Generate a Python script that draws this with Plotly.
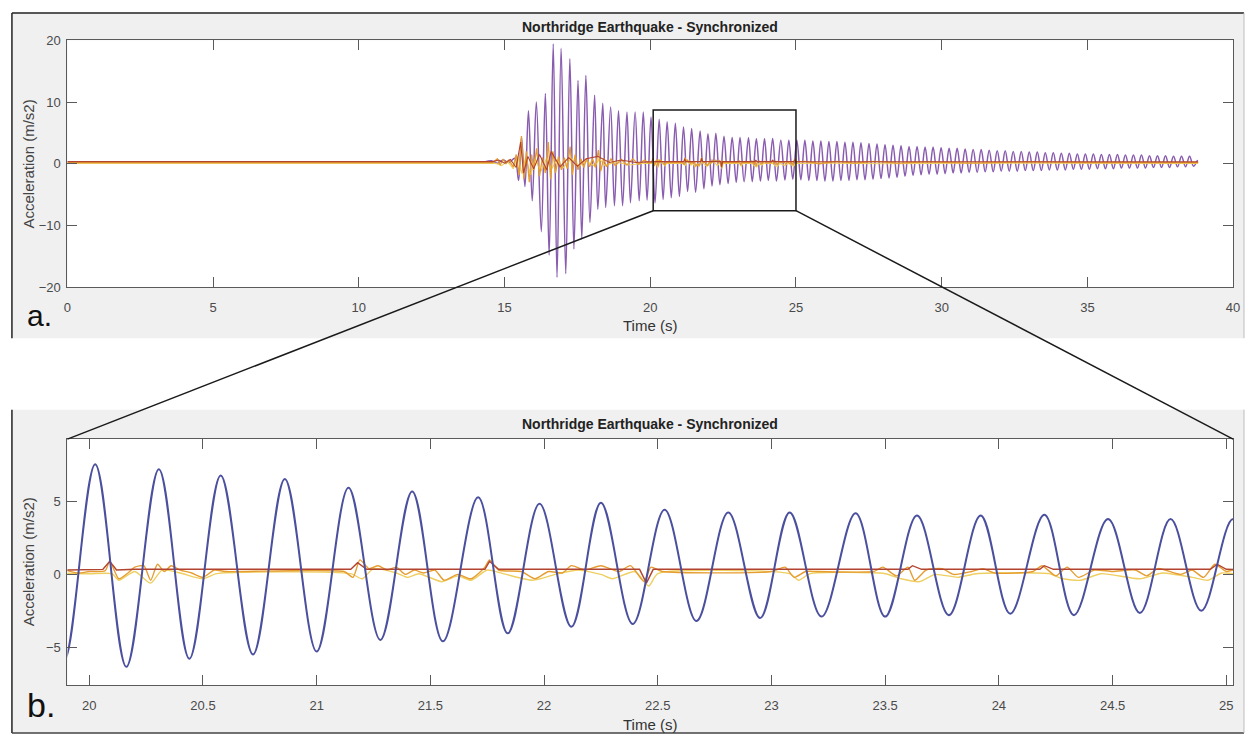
import plotly.graph_objects as go

W, H = 1252, 742

# ---------------- data ----------------
# Main structural acceleration record: extrema of the oscillation (time s, m/s2)
pre_t = [0.0, 14.3, 14.55, 14.75, 14.95, 15.15]
pre_v = [0.3, 0.3, 0.5, 0.1, 0.6, 0.2]

strong_t = [15.35, 15.48, 15.58, 15.70, 15.82, 15.95, 16.09, 16.26, 16.40, 16.53,
            16.67, 16.80, 16.94, 17.10, 17.24, 17.38, 17.52, 17.65, 17.79, 17.93,
            18.09, 18.20, 18.37, 18.47, 18.64, 18.77, 18.91, 19.05, 19.20, 19.32,
            19.48, 19.62, 19.76, 19.89]
strong_v = [0.9, -2.7, 4.3, -3.7, 8.6, -6.0, 10.0, -11.0, 11.4, -14.8,
            19.4, -18.4, 18.7, -17.8, 17.0, -13.8, 13.5, -12.2, 14.3, -9.5,
            11.1, -7.4, 9.8, -7.1, 9.2, -6.8, 8.6, -6.8, 8.4, -6.3,
            8.4, -6.0, 8.4, -5.9]

window_t = [20.026, 20.163, 20.306, 20.44, 20.578, 20.72, 20.86, 21.0, 21.14, 21.28,
            21.42, 21.555, 21.71, 21.84, 21.98, 22.12, 22.25, 22.39, 22.53, 22.67,
            22.81, 22.95, 23.08, 23.22, 23.37, 23.50, 23.64, 23.78, 23.92, 24.05,
            24.20, 24.33, 24.48, 24.62, 24.755, 24.89]
window_v = [7.57, -6.35, 7.23, -5.8, 6.8, -5.5, 6.55, -5.3, 5.95, -4.5,
            5.7, -4.6, 5.3, -4.05, 4.86, -3.6, 4.93, -3.4, 4.45, -3.2,
            4.26, -3.0, 4.26, -2.9, 4.2, -2.9, 4.05, -2.8, 4.05, -2.7,
            4.1, -2.8, 3.8, -2.65, 3.8, -2.5]

coda_t = [25.030, 25.168, 25.305, 25.443, 25.580, 25.718, 25.855, 25.993, 26.130, 26.268,
          26.405, 26.543, 26.680, 26.818, 26.955, 27.093, 27.230, 27.368, 27.505, 27.643,
          27.780, 27.918, 28.055, 28.193, 28.330, 28.468, 28.605, 28.743, 28.880, 29.018,
          29.155, 29.293, 29.430, 29.568, 29.705, 29.843, 29.980, 30.118, 30.255, 30.393,
          30.530, 30.668, 30.805, 30.943, 31.080, 31.218, 31.355, 31.493, 31.630, 31.768,
          31.905, 32.043, 32.180, 32.318, 32.455, 32.593, 32.730, 32.868, 33.005, 33.143,
          33.280, 33.418, 33.555, 33.693, 33.830, 33.968, 34.105, 34.243, 34.380, 34.518,
          34.655, 34.793, 34.930, 35.068, 35.205, 35.343, 35.480, 35.618, 35.755, 35.893,
          36.030, 36.168, 36.305, 36.443, 36.580, 36.718, 36.855, 36.993, 37.130, 37.268,
          37.405, 37.543, 37.680, 37.818, 37.955, 38.093, 38.230, 38.368, 38.505, 38.643,
          38.780]
coda_v = [3.8, -2.6, 3.8, -2.7, 3.7, -2.7, 3.7, -2.8, 3.6, -2.8,
          3.6, -2.7, 3.5, -2.7, 3.5, -2.6, 3.4, -2.6, 3.3, -2.5,
          3.2, -2.4, 3.1, -2.3, 3.0, -2.2, 2.9, -2.0, 2.8, -1.9,
          2.8, -1.8, 2.7, -1.7, 2.7, -1.7, 2.6, -1.6, 2.5, -1.5,
          2.5, -1.5, 2.4, -1.4, 2.3, -1.4, 2.3, -1.3, 2.2, -1.3,
          2.1, -1.2, 2.1, -1.2, 2.0, -1.2, 2.0, -1.1, 1.9, -1.1,
          1.9, -1.1, 1.8, -1.0, 1.8, -1.0, 1.7, -1.0, 1.7, -0.9,
          1.6, -0.9, 1.6, -0.9, 1.6, -0.8, 1.5, -0.8, 1.5, -0.8,
          1.5, -0.7, 1.4, -0.7, 1.4, -0.7, 1.4, -0.7, 1.3, -0.6,
          1.3, -0.6, 1.3, -0.6, 1.2, -0.5, 1.2, -0.5, 1.2, -0.4,
          0.6]

# Secondary (small) acceleration records
red_t = [0.0, 14.6, 14.8, 15.0, 15.2, 15.4, 15.55, 15.65, 15.8, 16.0, 16.2, 16.45, 16.6,
         16.9, 17.2, 17.5, 17.8, 18.2, 18.6, 19.0, 19.5, 20.06, 20.09, 20.12, 20.2,
         21.15, 21.18, 21.22, 21.74, 21.76, 21.8, 22.42, 22.45, 22.48, 23.6, 23.62, 23.66,
         24.18, 24.2, 24.24, 24.93, 24.96, 25.0, 26.0, 28.0, 30.0, 33.0, 36.0, 38.8]
red_v = [0.35, 0.35, 0.6, 0.1, 0.7, -0.6, 3.5, -1.5, 1.2, -0.8, 1.5, -1.0, 2.0,
         -0.5, 1.0, -0.4, 0.8, 1.2, 0.2, 0.6, 0.2, 0.35, 0.9, 0.3, 0.35,
         0.35, 0.8, 0.35, 0.35, 0.9, 0.35, 0.35, -0.6, 0.35, 0.35, 0.6, 0.35,
         0.35, 0.6, 0.35, 0.35, 0.7, 0.35, 0.35, 0.3, 0.35, 0.3, 0.35, 0.3]

orange_t = [0.0, 14.6, 14.75, 14.85, 14.95, 15.05, 15.15, 15.3, 15.4, 15.5, 15.58, 15.66,
            15.75, 15.85, 15.93, 16.0, 16.1, 16.2, 16.3, 16.4, 16.5, 16.58, 16.66, 16.75,
            16.85, 16.95, 17.05, 17.15, 17.25, 17.33, 17.42, 17.52, 17.62, 17.72, 17.82,
            17.92, 18.02, 18.12, 18.22, 18.3, 18.4, 18.5, 18.65, 18.8, 19.0, 19.2, 19.4,
            19.6, 19.8, 19.95,
            20.0, 20.07, 20.09, 20.13, 20.17, 20.2, 20.24, 20.27, 20.3, 20.33, 20.36, 20.4,
            20.45, 20.5, 20.55, 20.6, 21.12, 21.16, 21.19, 21.23, 21.27, 21.31, 21.35, 21.39,
            21.43, 21.47, 21.52, 21.56, 21.62, 21.68, 21.74, 21.76, 21.8, 21.9, 21.96, 22.02,
            22.08, 22.12, 22.18, 22.25, 22.33, 22.38, 22.44, 22.47, 22.52, 23.0, 23.06, 23.1,
            23.15, 23.2, 23.45, 23.49, 23.55, 23.6, 23.63, 23.68, 23.75, 23.8, 23.88, 23.93,
            23.98, 24.15, 24.19, 24.25, 24.3, 24.35, 24.42, 24.5, 24.6, 24.65, 24.7, 24.8,
            24.85, 24.9, 24.95, 25.0, 25.03,
            25.3, 25.8, 26.4, 27.0, 27.7, 28.5, 29.5, 31.0, 33.0, 35.0, 38.8]
orange_v = [0.2, 0.2, 0.8, -0.2, 0.7, 0.0, 0.6, -0.5, 1.5, -1.8, 4.5, -2.5,
            2.0, -3.0, 1.5, -1.0, 2.5, -2.0, 1.0, -1.5, 3.5, -2.5, 2.0, -1.5,
            1.2, -1.0, 1.0, -0.8, 2.8, -1.8, 1.5, -1.0, 0.8, -0.6, 0.9,
            -0.5, 0.8, -0.6, 2.2, -1.2, 0.9, -0.5, 0.8, -0.3, 0.7, -0.2, 0.8,
            -0.1, 0.6, 0.1,
            0.2, 0.25, 0.9, -0.3, 0.1, 0.5, 0.6, -0.4, 0.7, 0.2, 0.6, 0.3,
            0.1, -0.2, 0.3, 0.2, 0.2, -0.2, 1.0, 0.4, 0.6, 0.3, 0.5, 0.0,
            0.3, 0.1, 0.3, -0.4, 0.0, -0.3, 0.5, 1.0, 0.3, 0.2, -0.3, 0.2,
            0.1, 0.6, 0.3, 0.6, 0.2, 0.6, -0.5, 0.5, 0.2, 0.2, 0.5, -0.2,
            0.2, 0.2, 0.2, 0.5, -0.1, 0.5, -0.4, 0.3, 0.4, 0.0, 0.2, 0.4,
            0.1, 0.2, 0.6, -0.1, 0.5, -0.2, 0.3, 0.2, 0.3, -0.1, 0.4, 0.0,
            0.3, -0.2, 0.7, 0.2, 0.3,
            0.4, 0.0, 0.4, 0.1, 0.4, 0.1, 0.3, 0.1, 0.3, 0.2, 0.2]

yellow_t = [0.0, 14.7, 14.9, 15.1, 15.3, 15.45, 15.6, 15.72, 15.9, 16.05, 16.25, 16.45,
            16.6, 16.8, 17.0, 17.3, 17.5, 17.8, 18.1, 18.25, 18.45, 18.8, 19.3, 19.8,
            20.0, 20.1, 20.13, 20.2, 20.27, 20.32, 20.4, 20.5, 20.56, 21.15, 21.2, 21.25,
            21.35, 21.4, 21.45, 21.55, 21.62, 21.68, 21.75, 21.82, 21.95, 22.05, 22.15, 22.25,
            22.3, 22.4, 22.46, 22.5, 23.08, 23.12, 23.17, 23.5, 23.57, 23.65, 23.72, 23.82,
            23.9, 24.22, 24.28, 24.36, 24.45, 24.62, 24.72, 24.85, 24.92, 24.98, 25.03,
            26.0, 28.0, 31.0, 35.0, 38.8]
yellow_v = [0.05, 0.05, -0.3, 0.4, -0.8, 1.2, -1.6, 1.0, -1.8, 0.8, -1.2, 1.0,
            -0.9, 0.6, -0.7, 0.9, -0.5, 0.4, -0.4, 0.8, -0.3, 0.3, -0.2, 0.1,
            0.05, 0.05, -0.4, 0.2, -0.6, 0.3, 0.1, -0.3, 0.05, 0.05, -0.3, 0.4,
            0.1, -0.2, 0.05, -0.5, -0.1, -0.4, 0.3, 0.05, -0.4, 0.0, 0.3, 0.0,
            -0.3, 0.2, -0.8, 0.05, 0.05, -0.4, 0.05, 0.05, -0.3, -0.5, 0.0, -0.2,
            0.05, 0.05, -0.3, -0.4, 0.05, -0.3, 0.1, -0.2, -0.4, 0.1, 0.05,
            0.1, 0.0, 0.1, 0.05, 0.05]

# zoom window (data coords in the top panel)
box_x = [20.1, 25.0]
box_y = [-7.6, 8.7]

title_text = "Northridge Earthquake - Synchronized"
x_top_ticks = [0, 5, 10, 15, 20, 25, 30, 35, 40]
y_top_ticks = [-20, -10, 0, 10, 20]
x_bot_ticks = [20, 20.5, 21, 21.5, 22, 22.5, 23, 23.5, 24, 24.5, 25]
y_bot_ticks = [-5, 0, 5]

wave_t = pre_t + strong_t + window_t + coda_t
wave_v = pre_v + strong_v + window_v + coda_v

# ---------------- layout geometry (pixels -> paper) ----------------
def px(x):
    return x / W

def py(y):
    return 1 - y / H

XD = [px(64), px(1240)]
YD_TOP = [py(286), py(34)]
YD_BOT = [py(692), py(441)]
X_TOP_RANGE = [0, 40]
Y_TOP_RANGE = [-20, 20]
X_BOT_RANGE = [19.904, 25.03]
Y_BOT_RANGE = [-7.6, 9.3]

PURPLE = "#8a5cb0"
BLUE = "#4a4f9e"
RED = "#b2432e"
ORANGE = "#e59c30"
YELLOW = "#efcf62"

fig = go.Figure()

# top panel
fig.add_trace(go.Scatter(x=wave_t, y=wave_v, mode="lines", line=dict(color=PURPLE, width=1.5, shape="spline", smoothing=1.0),
                         xaxis="x", yaxis="y", showlegend=False, hoverinfo="skip"))
fig.add_trace(go.Scatter(x=yellow_t, y=yellow_v, mode="lines", line=dict(color=YELLOW, width=1.2),
                         xaxis="x", yaxis="y", showlegend=False, hoverinfo="skip"))
fig.add_trace(go.Scatter(x=orange_t, y=orange_v, mode="lines", line=dict(color=ORANGE, width=1.3),
                         xaxis="x", yaxis="y", showlegend=False, hoverinfo="skip"))
fig.add_trace(go.Scatter(x=red_t, y=red_v, mode="lines", line=dict(color=RED, width=1.1),
                         xaxis="x", yaxis="y", showlegend=False, hoverinfo="skip"))

# bottom panel
fig.add_trace(go.Scatter(x=yellow_t, y=yellow_v, mode="lines", line=dict(color=YELLOW, width=1.4, shape="spline", smoothing=0.6),
                         xaxis="x2", yaxis="y2", showlegend=False, hoverinfo="skip"))
fig.add_trace(go.Scatter(x=orange_t, y=orange_v, mode="lines", line=dict(color=ORANGE, width=1.4, shape="spline", smoothing=0.6),
                         xaxis="x2", yaxis="y2", showlegend=False, hoverinfo="skip"))
fig.add_trace(go.Scatter(x=red_t, y=red_v, mode="lines", line=dict(color=RED, width=1.4),
                         xaxis="x2", yaxis="y2", showlegend=False, hoverinfo="skip"))
fig.add_trace(go.Scatter(x=wave_t, y=wave_v, mode="lines", line=dict(color=BLUE, width=2.0, shape="spline", smoothing=1.0),
                         xaxis="x2", yaxis="y2", showlegend=False, hoverinfo="skip"))

axis_common = dict(showgrid=False, zeroline=False, showline=True, linecolor="#5a5a5a", linewidth=1,
                   mirror="ticks", ticks="inside", ticklen=10, tickcolor="#5a5a5a", tickwidth=1,
                   tickfont=dict(family="Liberation Sans, Arial, sans-serif", size=13, color="#4a4a4a"))

fig.update_layout(
    width=W, height=H,
    margin=dict(l=0, r=0, t=0, b=0),
    paper_bgcolor="white",
    plot_bgcolor="rgba(0,0,0,0)",
    xaxis=dict(domain=XD, anchor="y", range=X_TOP_RANGE, tickvals=x_top_ticks, ticklabelstandoff=8, **axis_common),
    yaxis=dict(domain=YD_TOP, anchor="x", range=Y_TOP_RANGE, tickvals=y_top_ticks, ticklabelstandoff=3, **axis_common),
    xaxis2=dict(domain=XD, anchor="y2", range=X_BOT_RANGE, tickvals=x_bot_ticks,
                ticktext=[f"{v:g}" for v in x_bot_ticks], ticklabelstandoff=8, **axis_common),
    yaxis2=dict(domain=YD_BOT, anchor="x2", range=Y_BOT_RANGE, tickvals=y_bot_ticks, ticklabelstandoff=3, **axis_common),
)

shapes = []
# gray panel backgrounds
shapes.append(dict(type="rect", xref="paper", yref="paper", x0=px(8), x1=px(1251), y0=py(338), y1=py(6),
                   fillcolor="#f0f0f0", line=dict(width=0), layer="below"))
shapes.append(dict(type="rect", xref="paper", yref="paper", x0=px(8), x1=px(1251), y0=py(741), y1=py(411),
                   fillcolor="#f0f0f0", line=dict(width=0), layer="below"))
# white plot areas
shapes.append(dict(type="rect", xref="paper", yref="paper", x0=XD[0], x1=XD[1], y0=YD_TOP[0], y1=YD_TOP[1],
                   fillcolor="white", line=dict(width=0), layer="below"))
shapes.append(dict(type="rect", xref="paper", yref="paper", x0=XD[0], x1=XD[1], y0=YD_BOT[0], y1=YD_BOT[1],
                   fillcolor="white", line=dict(width=0), layer="below"))
# panel borders
shapes.append(dict(type="line", xref="paper", yref="paper", x0=px(8), x1=px(1251), y0=py(6), y1=py(6),
                   line=dict(color="#222222", width=1.5)))
shapes.append(dict(type="line", xref="paper", yref="paper", x0=px(8), x1=px(8), y0=py(338), y1=py(6),
                   line=dict(color="#222222", width=1.5)))
shapes.append(dict(type="line", xref="paper", yref="paper", x0=px(1251), x1=px(1251), y0=py(338), y1=py(6),
                   line=dict(color="#bdbdbd", width=1)))
shapes.append(dict(type="line", xref="paper", yref="paper", x0=px(8), x1=px(8), y0=py(741), y1=py(411),
                   line=dict(color="#222222", width=1.5)))
shapes.append(dict(type="line", xref="paper", yref="paper", x0=px(8), x1=px(1251), y0=py(741), y1=py(741),
                   line=dict(color="#444444", width=1.5)))
shapes.append(dict(type="line", xref="paper", yref="paper", x0=px(1251), x1=px(1251), y0=py(741), y1=py(411),
                   line=dict(color="#bdbdbd", width=1)))

# zoom box in top panel
shapes.append(dict(type="rect", xref="x", yref="y", x0=box_x[0], x1=box_x[1], y0=box_y[0], y1=box_y[1],
                   line=dict(color="#1a1a1a", width=1.5), fillcolor="rgba(0,0,0,0)", layer="above"))

def top_to_paper(t, v):
    xp = XD[0] + (t - X_TOP_RANGE[0]) / (X_TOP_RANGE[1] - X_TOP_RANGE[0]) * (XD[1] - XD[0])
    yp = YD_TOP[0] + (v - Y_TOP_RANGE[0]) / (Y_TOP_RANGE[1] - Y_TOP_RANGE[0]) * (YD_TOP[1] - YD_TOP[0])
    return xp, yp

bl = top_to_paper(box_x[0], box_y[0])
br = top_to_paper(box_x[1], box_y[0])
shapes.append(dict(type="line", xref="paper", yref="paper", x0=bl[0], y0=bl[1], x1=XD[0], y1=YD_BOT[1],
                   line=dict(color="#1a1a1a", width=1.5), layer="above"))
shapes.append(dict(type="line", xref="paper", yref="paper", x0=br[0], y0=br[1], x1=XD[1], y1=YD_BOT[1],
                   line=dict(color="#1a1a1a", width=1.5), layer="above"))
fig.update_layout(shapes=shapes)

FONT = "Liberation Sans, Arial, sans-serif"
ann = []
xc = (XD[0] + XD[1]) / 2
ann.append(dict(text=f"<b>{title_text}</b>", x=xc, y=py(20), xref="paper", yref="paper", showarrow=False,
                font=dict(family=FONT, size=14, color="#222222"), xanchor="center", yanchor="middle"))
ann.append(dict(text=f"<b>{title_text}</b>", x=xc, y=py(426), xref="paper", yref="paper", showarrow=False,
                font=dict(family=FONT, size=14, color="#222222"), xanchor="center", yanchor="middle"))
for yy in (325, 732):
    ann.append(dict(text="Time (s)", x=xc, y=py(yy), xref="paper", yref="paper", showarrow=False,
                    font=dict(family=FONT, size=15, color="#333333"), xanchor="center", yanchor="middle"))
for yy in (160, 566):
    ann.append(dict(text="Acceleration (m/s2)", x=px(25), y=py(yy), xref="paper", yref="paper", showarrow=False,
                    textangle=-90, font=dict(family=FONT, size=15, color="#444444"), xanchor="center", yanchor="middle"))
ann.append(dict(text="a.", x=px(36), y=py(315), xref="paper", yref="paper", showarrow=False,
                font=dict(family=FONT, size=30, color="#111111"), xanchor="center", yanchor="middle"))
ann.append(dict(text="b.", x=px(37), y=py(712), xref="paper", yref="paper", showarrow=False,
                font=dict(family=FONT, size=34, color="#111111"), xanchor="center", yanchor="middle"))
fig.update_layout(annotations=ann)

fig.write_html("out.html")
